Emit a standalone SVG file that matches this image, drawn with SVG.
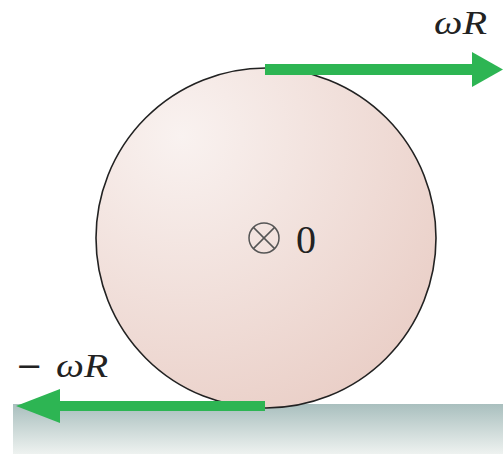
<svg xmlns="http://www.w3.org/2000/svg" width="503" height="454" viewBox="0 0 503 454">
<style>
.lbl{font-family:"Liberation Serif",serif;font-style:italic;fill:#222;font-size:34px}
.arr{fill:#2db553}
</style>
<defs>
<radialGradient id="disk" cx="0.25" cy="0.2" r="0.95">
<stop offset="0" stop-color="#f9f2f0"/>
<stop offset="1" stop-color="#e9cdc5"/>
</radialGradient>
<linearGradient id="ground" x1="0" y1="0" x2="0" y2="1">
<stop offset="0" stop-color="#a9bfbe"/>
<stop offset="1" stop-color="#eef2f0"/>
</linearGradient>
</defs>
<rect x="0" y="0" width="503" height="454" fill="#fff"/>
<g id="ground-plane"><rect x="13" y="404" width="490" height="50" fill="url(#ground)"/></g>
<g id="disk-node">
<circle cx="266" cy="238" r="170" fill="url(#disk)" stroke="#222" stroke-width="1.6"/>
<g id="axis">
<circle cx="264" cy="238" r="15" fill="none" stroke="#555" stroke-width="1.5"/>
<line x1="253.4" y1="227.4" x2="274.6" y2="248.6" stroke="#555" stroke-width="1.5"/>
<line x1="253.4" y1="248.6" x2="274.6" y2="227.4" stroke="#555" stroke-width="1.5"/>
</g>
<text x="296" y="253" font-family="Liberation Serif,serif" font-size="40" fill="#222">0</text>
</g>
<g id="connectors">
<g id="top-arrow">
<rect class="arr" x="265" y="64" width="208" height="11"/>
<polygon class="arr" points="472,52 503,69.5 472,87"/>
</g>
<g id="bottom-arrow">
<rect class="arr" x="59" y="401" width="206" height="10"/>
<polygon class="arr" points="60,389 16,406 60,423"/>
</g>
</g>
<text class="lbl" x="434" y="34" textLength="53" lengthAdjust="spacingAndGlyphs">ωR</text>
<text class="lbl" y="377"><tspan x="16" font-style="normal" font-family="DejaVu Serif,serif" font-size="32">−</tspan><tspan x="56" textLength="52" lengthAdjust="spacingAndGlyphs">ωR</tspan></text>
</svg>
